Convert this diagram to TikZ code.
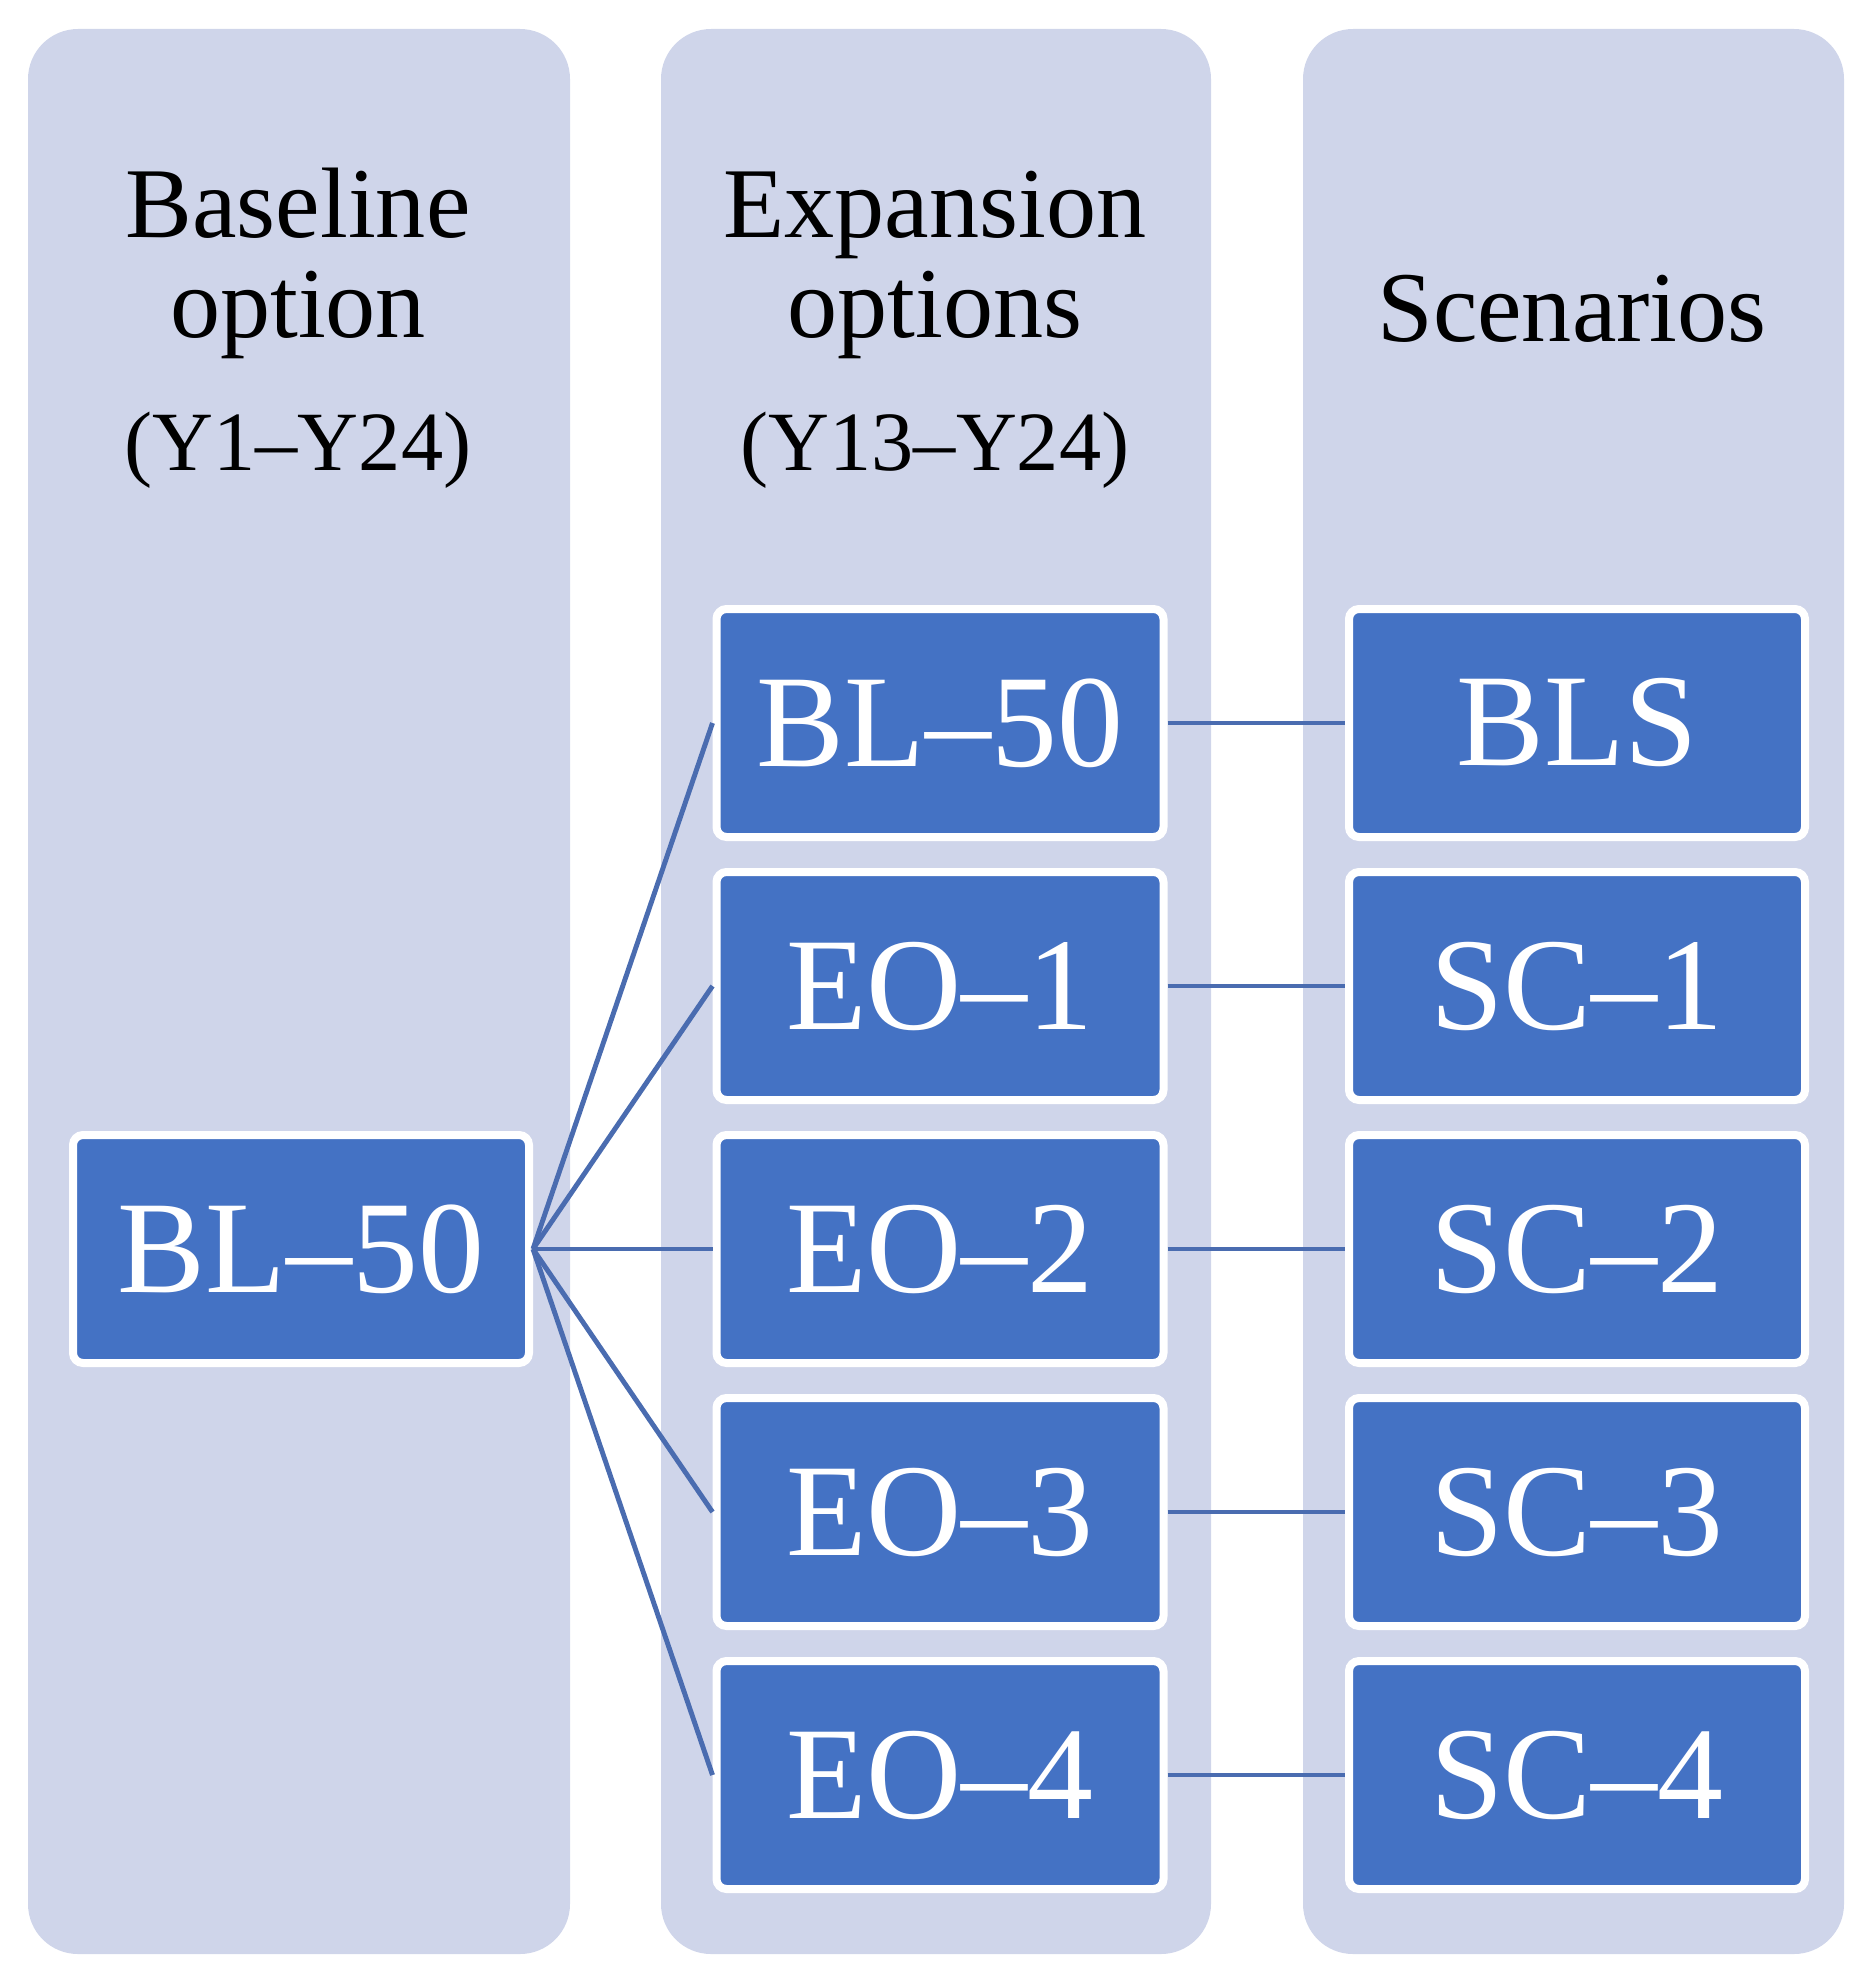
\documentclass[tikz,border=0pt]{standalone}
\usepackage{fontspec}
\setmainfont{Liberation Serif}
\usepackage{tikz}
\definecolor{panelblue}{HTML}{CFD5EA}
\definecolor{boxblue}{HTML}{4472C4}
\definecolor{linkblue}{HTML}{4A6CB0}

\begin{document}
\begin{tikzpicture}[
		panel/.style={fill=panelblue, rounded corners=0.5cm},
		optbox/.style={draw=white, line width=0.08cm, fill=boxblue, rounded corners=0.1cm,
			text=white, minimum height=2.28cm, inner sep=0pt, font=\fontsize{37.5}{39}\selectfont},
		midbox/.style={optbox, minimum width=4.47cm},
		scenbox/.style={optbox, minimum width=4.56cm},
		head/.style={anchor=base, inner sep=0pt, font=\fontsize{28.5}{30}\selectfont},
		yearspan/.style={anchor=base, inner sep=0pt, font=\fontsize{24}{26}\selectfont},
		link/.style={draw=linkblue, line width=1.4pt}
		]
		\useasboundingbox (0,0) rectangle (18.68,-19.86);
		
		\fill[panel] (0.28,-0.29) rectangle (5.70,-19.54);
		\fill[panel] (6.61,-0.29) rectangle (12.11,-19.54);
		\fill[panel] (13.03,-0.29) rectangle (18.44,-19.54);
		
		\node[head] (baseT) at (2.98,-2.37) {Baseline};
		\node[head] (baseO) at (2.98,-3.37) {option};
		\node[yearspan] (baseR) at (2.98,-4.70) {(Y1--Y24)};
		
		\node[head] (expT) at (9.35,-2.37) {Expansion};
		\node[head] (expO) at (9.35,-3.37) {options};
		\node[yearspan] (expR) at (9.35,-4.70) {(Y13--Y24)};
		
		\node[head] (scenT) at (15.72,-3.41) {Scenarios};
		
		\node[scenbox] (bl) at (3.01,-12.49) {BL--50};
		
		\node[midbox] (ebl) at (9.40,-7.23) {BL--50};
		\node[midbox] (eo1) at (9.40,-9.86) {EO--1};
		\node[midbox] (eo2) at (9.40,-12.49) {EO--2};
		\node[midbox] (eo3) at (9.40,-15.12) {EO--3};
		\node[midbox] (eo4) at (9.40,-17.75) {EO--4};
		
		\node[scenbox] (bls) at (15.77,-7.23) {BLS};
		\node[scenbox] (sc1) at (15.77,-9.86) {SC--1};
		\node[scenbox] (sc2) at (15.77,-12.49) {SC--2};
		\node[scenbox] (sc3) at (15.77,-15.12) {SC--3};
		\node[scenbox] (sc4) at (15.77,-17.75) {SC--4};
		
		\draw[link] (bl.east) -- (ebl.west);
		\draw[link] (bl.east) -- (eo1.west);
		\draw[link] (bl.east) -- (eo2.west);
		\draw[link] (bl.east) -- (eo3.west);
		\draw[link] (bl.east) -- (eo4.west);
		
		\draw[link] (ebl) -- (bls);
		\draw[link] (eo1) -- (sc1);
		\draw[link] (eo2) -- (sc2);
		\draw[link] (eo3) -- (sc3);
		\draw[link] (eo4) -- (sc4);
		\end{tikzpicture}
\end{document}
